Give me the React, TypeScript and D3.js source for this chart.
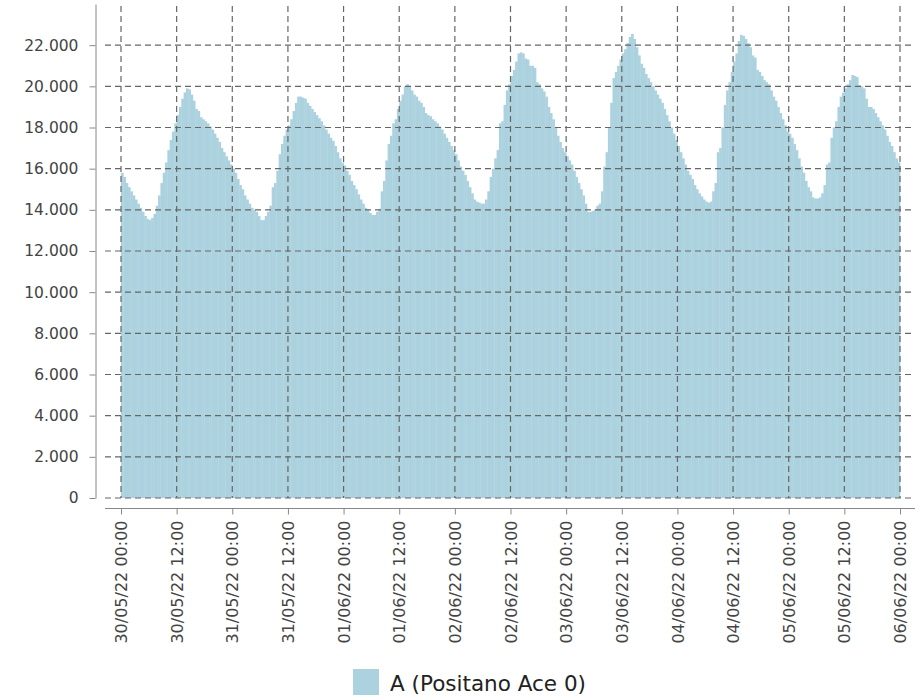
import * as d3 from 'd3';
import { useEffect, useRef } from 'react';

// half-hourly values, one array per day (30/05/22 .. 05/06/22)
const day1 = [15800, 15600, 15300, 15100, 14900, 14700, 14500, 14300, 14100, 13900, 13700, 13550, 13500, 13600, 13800, 14200, 14700, 15300, 15800, 16300, 16900, 17400, 17800, 18200, 18600, 19000, 19400, 19700, 19900, 19850, 19600, 19300, 18900, 18800, 18500, 18400, 18300, 18200, 18050, 17900, 17700, 17500, 17300, 17000, 16800, 16600, 16400, 16200];
const day2 = [16000, 15800, 15500, 15200, 15000, 14700, 14500, 14300, 14100, 14000, 13900, 13700, 13500, 13500, 13700, 13900, 14200, 15100, 15300, 15900, 16700, 17200, 17600, 17900, 18100, 18400, 18800, 19200, 19500, 19500, 19450, 19400, 19200, 19050, 18900, 18750, 18600, 18450, 18300, 18100, 17900, 17700, 17500, 17350, 17100, 16800, 16500, 16300];
const day3 = [16150, 15900, 15700, 15400, 15200, 15000, 14750, 14500, 14300, 14100, 14000, 13850, 13750, 13750, 13900, 14050, 14900, 15400, 16400, 17200, 17600, 18200, 18400, 18900, 19300, 19600, 20000, 20100, 20000, 19800, 19600, 19500, 19300, 19200, 19000, 18700, 18600, 18550, 18400, 18300, 18200, 18050, 17900, 17700, 17500, 17300, 17100, 16900];
const day4 = [16700, 16400, 16100, 15900, 15700, 15400, 15100, 14800, 14500, 14400, 14350, 14300, 14300, 14500, 14900, 15600, 16000, 16500, 16900, 18200, 18300, 19100, 19800, 20100, 20500, 20800, 21200, 21600, 21650, 21600, 21350, 21300, 21000, 21000, 20900, 20200, 20100, 19900, 19750, 19500, 19000, 18700, 18400, 18000, 17600, 17300, 17000, 16800];
const day5 = [16600, 16400, 16200, 15900, 15600, 15300, 15000, 14700, 14300, 13900, 13900, 13950, 14000, 14200, 14300, 14900, 16100, 16800, 18000, 19200, 20400, 20700, 21000, 21300, 21600, 21800, 22100, 22400, 22550, 22300, 21900, 21500, 21100, 20900, 20600, 20400, 20200, 20000, 19800, 19600, 19400, 19200, 18900, 18600, 18300, 18000, 17700, 17400];
const day6 = [17100, 16800, 16500, 16200, 15900, 15700, 15500, 15200, 15000, 14800, 14650, 14500, 14400, 14350, 14400, 14900, 15300, 16800, 17000, 18000, 19100, 19800, 20200, 20700, 21200, 21600, 22200, 22500, 22450, 22300, 22100, 21900, 21500, 21400, 20800, 20700, 20500, 20300, 20200, 20100, 19800, 19500, 19300, 19000, 18700, 18400, 18100, 17800];
const day7 = [17700, 17500, 17200, 16900, 16500, 16100, 15800, 15400, 15100, 14900, 14600, 14550, 14550, 14600, 14800, 15200, 16200, 16300, 17500, 18000, 18300, 19000, 19500, 19700, 19900, 20100, 20300, 20550, 20500, 20450, 20050, 20000, 19900, 19400, 19000, 19000, 18900, 18700, 18500, 18300, 18100, 17900, 17600, 17300, 17100, 16800, 16500, 16300];

const startDate = new Date(Date.UTC(2022, 4, 30, 0, 0));
const endDate = new Date(Date.UTC(2022, 5, 6, 0, 0));
const yTicks = [0, 2000, 4000, 6000, 8000, 10000, 12000, 14000, 16000, 18000, 20000, 22000];
const seriesName = 'A (Positano Ace 0)';

const App = () => {
    const ref = useRef<SVGSVGElement | null>(null);

    useEffect(() => {
        if (!ref.current) return;
        const svg = d3.select(ref.current);
        svg.selectAll('*').remove();

        const values = [...day1, ...day2, ...day3, ...day4, ...day5, ...day6, ...day7];
        const data = values.map((v, i) => ({ t: d3.utcMinute.offset(startDate, i * 30), v }));

        const plotLeft = 105, plotRight = 915, top = 4, bottom = 498;
        const font = 'DejaVu Sans, sans-serif';

        const x = d3.scaleUtc().domain([startDate, endDate]).range([121, 900]);
        const y = d3.scaleLinear().domain([0, 24000]).range([bottom, top]);

        const locale = d3.formatLocale({ decimal: ',', thousands: '.', grouping: [3], currency: ['', ''] });
        const fmtY = locale.format(',d');
        const fmtX = d3.utcFormat('%d/%m/%y %H:%M');
        const xTicks = d3.utcHour.every(12)!.range(startDate, d3.utcHour.offset(endDate, 1));

        // bars (slight overlap so the seams stay faint)
        svg.append('g')
            .selectAll('rect')
            .data(data)
            .join('rect')
            .attr('x', d => x(d.t))
            .attr('y', d => y(d.v))
            .attr('width', d => x(d3.utcMinute.offset(d.t, 30)) - x(d.t) + 0.35)
            .attr('height', d => y(0) - y(d.v))
            .attr('fill', '#abd2de');

        // grid
        const grid = svg.append('g')
            .attr('stroke', '#666')
            .attr('stroke-width', 1.2)
            .attr('stroke-dasharray', '6,4');
        grid.selectAll('line.h')
            .data(yTicks)
            .join('line')
            .attr('class', 'h')
            .attr('x1', plotLeft).attr('x2', plotRight)
            .attr('y1', d => y(d)).attr('y2', d => y(d));
        grid.selectAll('line.v')
            .data(xTicks)
            .join('line')
            .attr('class', 'v')
            .attr('x1', d => x(d)).attr('x2', d => x(d))
            .attr('y1', top + 2).attr('y2', bottom);

        // y axis
        const yAxis = svg.append('g')
            .attr('transform', 'translate(95.5,0)')
            .call(d3.axisLeft(y).tickValues(yTicks).tickFormat(d => fmtY(+d)).tickSize(6).tickSizeOuter(0).tickPadding(11));
        yAxis.select('.domain').attr('stroke', '#888');
        yAxis.selectAll('.tick line').attr('stroke', '#888');
        yAxis.selectAll('.tick text')
            .attr('fill', '#444')
            .style('font-family', font)
            .style('font-size', '15.5px');

        // x axis
        const xAxisG = svg.append('g').attr('transform', 'translate(0,508.5)');
        xAxisG.append('line')
            .attr('x1', plotLeft).attr('x2', plotRight)
            .attr('stroke', '#888');
        xAxisG.call(d3.axisBottom(x).tickValues(xTicks).tickFormat(d => fmtX(d as Date)).tickSize(6).tickSizeOuter(0));
        xAxisG.select('.domain').remove();
        xAxisG.selectAll('.tick line').attr('stroke', '#888');
        xAxisG.selectAll('.tick text')
            .attr('fill', '#444')
            .attr('transform', 'rotate(-90)')
            .attr('text-anchor', 'end')
            .attr('x', -12)
            .attr('y', 0)
            .attr('dy', '0.35em')
            .style('font-family', font)
            .style('font-size', '16px');

        // legend
        const legend = svg.append('g').attr('transform', 'translate(353,669)');
        legend.append('rect')
            .attr('width', 26).attr('height', 26)
            .attr('fill', '#abd2de');
        legend.append('text')
            .attr('x', 37).attr('y', 14)
            .attr('dy', '0.35em')
            .attr('fill', '#222')
            .style('font-family', font)
            .style('font-size', '21.5px')
            .text(seriesName);
    }, []);

    return (
        <svg ref={ref} width={924} height={696}
            style={{ position: 'absolute', left: 0, top: 0, background: '#fff' }} />
    );
};

export default App;
